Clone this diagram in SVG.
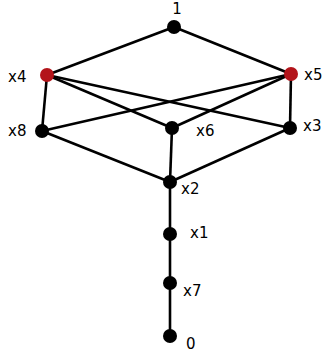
<svg xmlns="http://www.w3.org/2000/svg" width="324" height="355" viewBox="0 0 324 355">
<style>
.e{stroke:#000;stroke-width:2.6;fill:none}
.n{fill:#000}
.r{fill:#b3141a}
text{font-family:"DejaVu Sans",sans-serif;font-size:15px;fill:#000}
</style>
<rect width="324" height="355" fill="#fff"/>
<g id="edges">
<line class="e" x1="174" y1="27" x2="47" y2="75"/>
<line class="e" x1="174" y1="27" x2="291" y2="74"/>
<line class="e" x1="47" y1="75" x2="42" y2="131"/>
<line class="e" x1="47" y1="75" x2="172" y2="128"/>
<line class="e" x1="47" y1="75" x2="290" y2="128"/>
<line class="e" x1="291" y1="74" x2="42" y2="131"/>
<line class="e" x1="291" y1="74" x2="172" y2="128"/>
<line class="e" x1="291" y1="74" x2="290" y2="128"/>
<line class="e" x1="42" y1="131" x2="170" y2="182"/>
<line class="e" x1="172" y1="128" x2="170" y2="182"/>
<line class="e" x1="290" y1="128" x2="170" y2="182"/>
<line class="e" x1="170" y1="182" x2="170" y2="336"/>
</g>
<g id="n1"><circle class="n" cx="174" cy="27" r="7"/><text x="177" y="14" text-anchor="middle">1</text></g>
<g id="x4"><circle class="r" cx="47" cy="75" r="7"/><text x="8" y="82">x4</text></g>
<g id="x5"><circle class="r" cx="291" cy="74" r="7"/><text x="304" y="80">x5</text></g>
<g id="x8"><circle class="n" cx="42" cy="131" r="7"/><text x="8" y="136">x8</text></g>
<g id="x6"><circle class="n" cx="172" cy="128" r="7"/><text x="196" y="136">x6</text></g>
<g id="x3"><circle class="n" cx="290" cy="128" r="7"/><text x="303" y="131">x3</text></g>
<g id="x2"><circle class="n" cx="170" cy="182" r="7"/><text x="181" y="194">x2</text></g>
<g id="x1"><circle class="n" cx="170" cy="234" r="7"/><text x="190" y="238">x1</text></g>
<g id="x7"><circle class="n" cx="170" cy="283" r="7"/><text x="183" y="296">x7</text></g>
<g id="n0"><circle class="n" cx="170" cy="336" r="7"/><text x="186" y="349">0</text></g>
</svg>
